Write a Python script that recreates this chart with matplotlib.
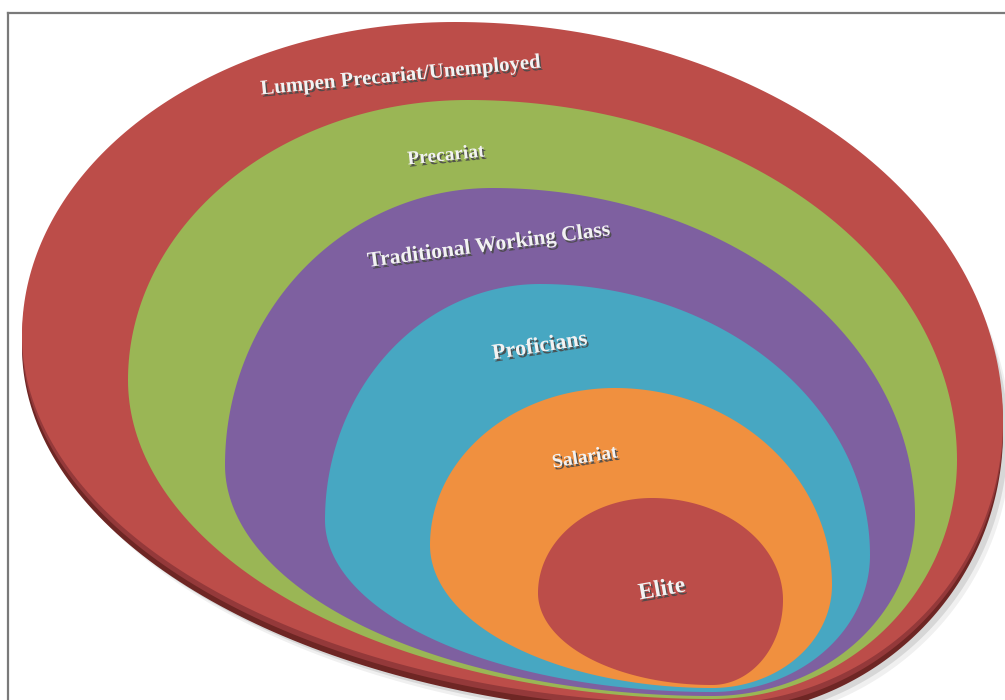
import numpy as np
import matplotlib.pyplot as plt
from matplotlib.patches import Polygon
import matplotlib.patheffects as pe

# classes, outermost ring first
labels = ["Lumpen Precariat/Unemployed", "Precariat", "Traditional Working Class",
          "Proficians", "Salariat", "Elite"]
colors = ["#bc4d49", "#9ab655", "#7e60a0", "#47a7c2", "#f0903f", "#bc4d49"]

# ring outline: extreme points (top, right, bottom, left) in pixel coords
tops = [(455, 22), (468, 100), (492, 188), (540, 284), (615, 388), (652, 498)]
rights = [(1003, 420), (957, 460), (915, 515), (870, 555), (832, 585), (783, 600)]
bottoms = [(712, 704), (712, 699), (712, 696), (712, 692), (712, 688), (712, 685)]
lefts = [(22, 335), (128, 380), (225, 465), (325, 520), (430, 545), (538, 593)]

# label placement
lab_xy = [(401, 76), (446, 156), (489, 246), (540, 347), (585, 458), (662, 590)]
lab_rot = [5.5, 6, 7.5, 9, 9, 10]
lab_size = [15, 14, 15.5, 16, 14, 17]


def egg(T, R, B, L, n=90):
    t = np.linspace(0, np.pi / 2, n)
    x1 = T[0] + (R[0] - T[0]) * np.sin(t)
    y1 = R[1] - (R[1] - T[1]) * np.cos(t)
    x2 = B[0] + (R[0] - B[0]) * np.cos(t)
    y2 = R[1] + (B[1] - R[1]) * np.sin(t)
    x3 = B[0] - (B[0] - L[0]) * np.sin(t)
    y3 = L[1] + (B[1] - L[1]) * np.cos(t)
    x4 = T[0] - (T[0] - L[0]) * np.cos(t)
    y4 = L[1] - (L[1] - T[1]) * np.sin(t)
    x = np.concatenate([x1, x2, x3, x4])
    y = np.concatenate([y1, y2, y3, y4])
    return np.column_stack([x, y])


fig = plt.figure(figsize=(10.05, 7), dpi=100)
ax = fig.add_axes([0, 0, 1, 1])
ax.set_xlim(0, 1005)
ax.set_ylim(700, 0)
ax.axis('off')

# frame
ax.plot([8, 1005], [13, 13], color='#7a7a7a', lw=1.6)
ax.plot([8, 8], [13, 700], color='#7a7a7a', lw=1.6)

# shadow and rim of the outer disc
outer = egg(tops[0], rights[0], bottoms[0], lefts[0])
for dx, dy, c, a in [(8, 20, '#000000', 0.06), (5, 16, '#000000', 0.10),
                     (0, 12, '#6e2624', 1.0), (0, 6, '#94393a', 1.0)]:
    ax.add_patch(Polygon(outer + [dx, dy], closed=True, fc=c, ec='none', alpha=a))

for i in range(len(labels)):
    pts = egg(tops[i], rights[i], bottoms[i], lefts[i])
    ax.add_patch(Polygon(pts, closed=True, fc=colors[i], ec='none'))

for i, lab in enumerate(labels):
    ax.text(lab_xy[i][0], lab_xy[i][1], lab, rotation=lab_rot[i], fontsize=lab_size[i],
            family='Liberation Serif', weight='bold', color='#f2f2f2',
            ha='center', va='center', rotation_mode='anchor',
            path_effects=[pe.withSimplePatchShadow(offset=(1.2, -1.6), shadow_rgbFace='#4a4a4a', alpha=0.9)])

fig.savefig('out.png', dpi=100)
